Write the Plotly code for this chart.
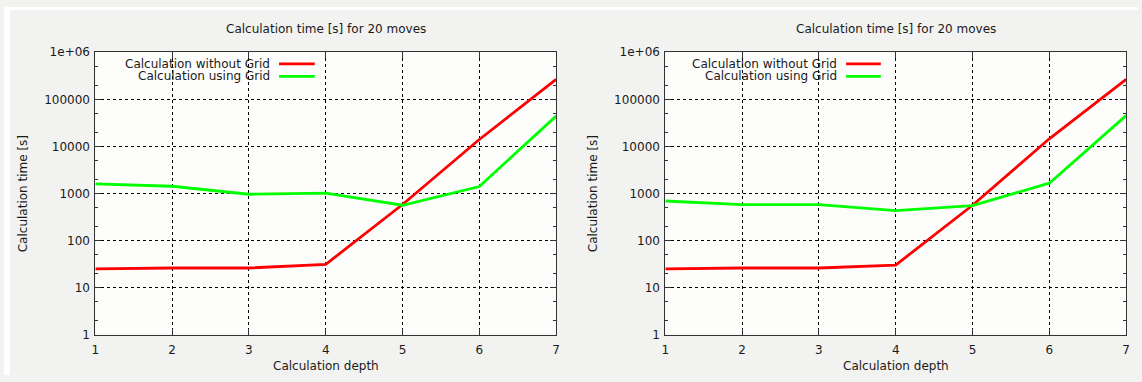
import plotly.graph_objects as go

depth = [1, 2, 3, 4, 5, 6, 7]
left_without = [25, 26, 26, 31, 580, 14000, 265000]
left_with = [1600, 1420, 960, 1010, 560, 1400, 44000]
right_without = [25, 26, 26, 30, 560, 14500, 265000]
right_with = [690, 580, 575, 430, 550, 1650, 45000]

ytick_vals = [1, 10, 100, 1000, 10000, 100000, 1000000]
ytick_text = ["1", "10", "100", "1000", "10000", "100000", "1e+06"]
name_without = "Calculation without Grid"
name_with = "Calculation using Grid"
title_text = "Calculation time [s] for 20 moves"
xlabel = "Calculation depth"
ylabel = "Calculation time [s]"

W, H = 1142, 382
FONT = "DejaVu Sans"
FS = 12
TXT = "#1a1a1a"
RED = "#ff0000"
GREEN = "#00ff00"

def px(x):
    return x / W

def py(y):
    return 1 - y / H

panels = [
    dict(xd=(px(92), px(556)), without=left_without, withg=left_with, leg_end=270, samp=(277, 313), ylab_x=20),
    dict(xd=(px(666), px(1130)), without=right_without, withg=right_with, leg_end=841, samp=(848, 883), ylab_x=594),
]
ydom = (py(340), py(47))

fig = go.Figure()
annotations = []
shapes = []

for i, p in enumerate(panels):
    sfx = "" if i == 0 else str(i + 1)
    xa = "x" + sfx
    ya = "y" + sfx
    fig.add_trace(go.Scatter(x=depth, y=p["without"], mode="lines", name=name_without,
                             line=dict(color=RED, width=2.8), xaxis=xa, yaxis=ya, showlegend=False))
    fig.add_trace(go.Scatter(x=depth, y=p["withg"], mode="lines", name=name_with,
                             line=dict(color=GREEN, width=2.8), xaxis=xa, yaxis=ya, showlegend=False))
    axis_common = dict(
        showline=True, linecolor="#333333", linewidth=1, mirror="ticks",
        ticks="inside", ticklen=6, tickcolor="#333333",
        showgrid=True, gridcolor="#000000", gridwidth=1, griddash="dot",
        tickfont=dict(family=FONT, size=FS, color=TXT), zeroline=False,
    )
    fig.update_layout(**{
        "xaxis" + sfx: dict(domain=p["xd"], range=[1, 7], tickvals=depth,
                            anchor=ya, ticklabelstandoff=4, **axis_common),
        "yaxis" + sfx: dict(domain=ydom, type="log", range=[0, 6], tickvals=ytick_vals,
                            ticktext=ytick_text, anchor=xa, ticklabelstandoff=2,
                            minor=dict(ticks="inside", ticklen=3, dtick="D2", tickcolor="#333333", showgrid=False),
                            **axis_common),
    })
    cx = (p["xd"][0] + p["xd"][1]) / 2
    annotations.append(dict(text=title_text, x=cx, y=py(23), xref="paper", yref="paper",
                            xanchor="center", yanchor="middle",
                            showarrow=False, font=dict(family=FONT, size=FS, color=TXT)))
    annotations.append(dict(text=xlabel, x=cx, y=py(373), xref="paper", yref="paper",
                            xanchor="center", yanchor="middle",
                            showarrow=False, font=dict(family=FONT, size=FS, color=TXT)))
    annotations.append(dict(text=ylabel, x=px(p["ylab_x"]), y=(ydom[0] + ydom[1]) / 2,
                            xref="paper", yref="paper", textangle=-90,
                            xanchor="center", yanchor="middle",
                            showarrow=False, font=dict(family=FONT, size=FS, color=TXT)))
    for name, color, yy in [(name_without, RED, 59), (name_with, GREEN, 72)]:
        annotations.append(dict(text=name, x=px(p["leg_end"]), y=py(yy), xref="paper", yref="paper",
                                xanchor="right", yanchor="middle", showarrow=False,
                                font=dict(family=FONT, size=FS, color=TXT)))
        shapes.append(dict(type="line", xref="paper", yref="paper",
                           x0=px(p["samp"][0]), x1=px(p["samp"][1]), y0=py(yy), y1=py(yy),
                           line=dict(color=color, width=2.8)))

# white outer strips (top and left)
shapes.append(dict(type="rect", xref="paper", yref="paper", x0=0, x1=px(6), y0=0, y1=1,
                   fillcolor="white", line=dict(width=0), layer="below"))
shapes.append(dict(type="rect", xref="paper", yref="paper", x0=0, x1=1, y0=py(3), y1=1,
                   fillcolor="white", line=dict(width=0), layer="below"))

fig.update_layout(
    width=W, height=H, autosize=False, margin=dict(l=0, r=0, t=0, b=0),
    paper_bgcolor="#f2f3f1", plot_bgcolor="#fdfdfc",
    annotations=annotations, shapes=shapes, showlegend=False,
    font=dict(family=FONT, size=FS, color=TXT),
)

fig.write_html("out.html",
               config={"responsive": False, "displayModeBar": False},
               post_script="document.body.style.margin='0px';document.body.style.overflow='hidden';")
